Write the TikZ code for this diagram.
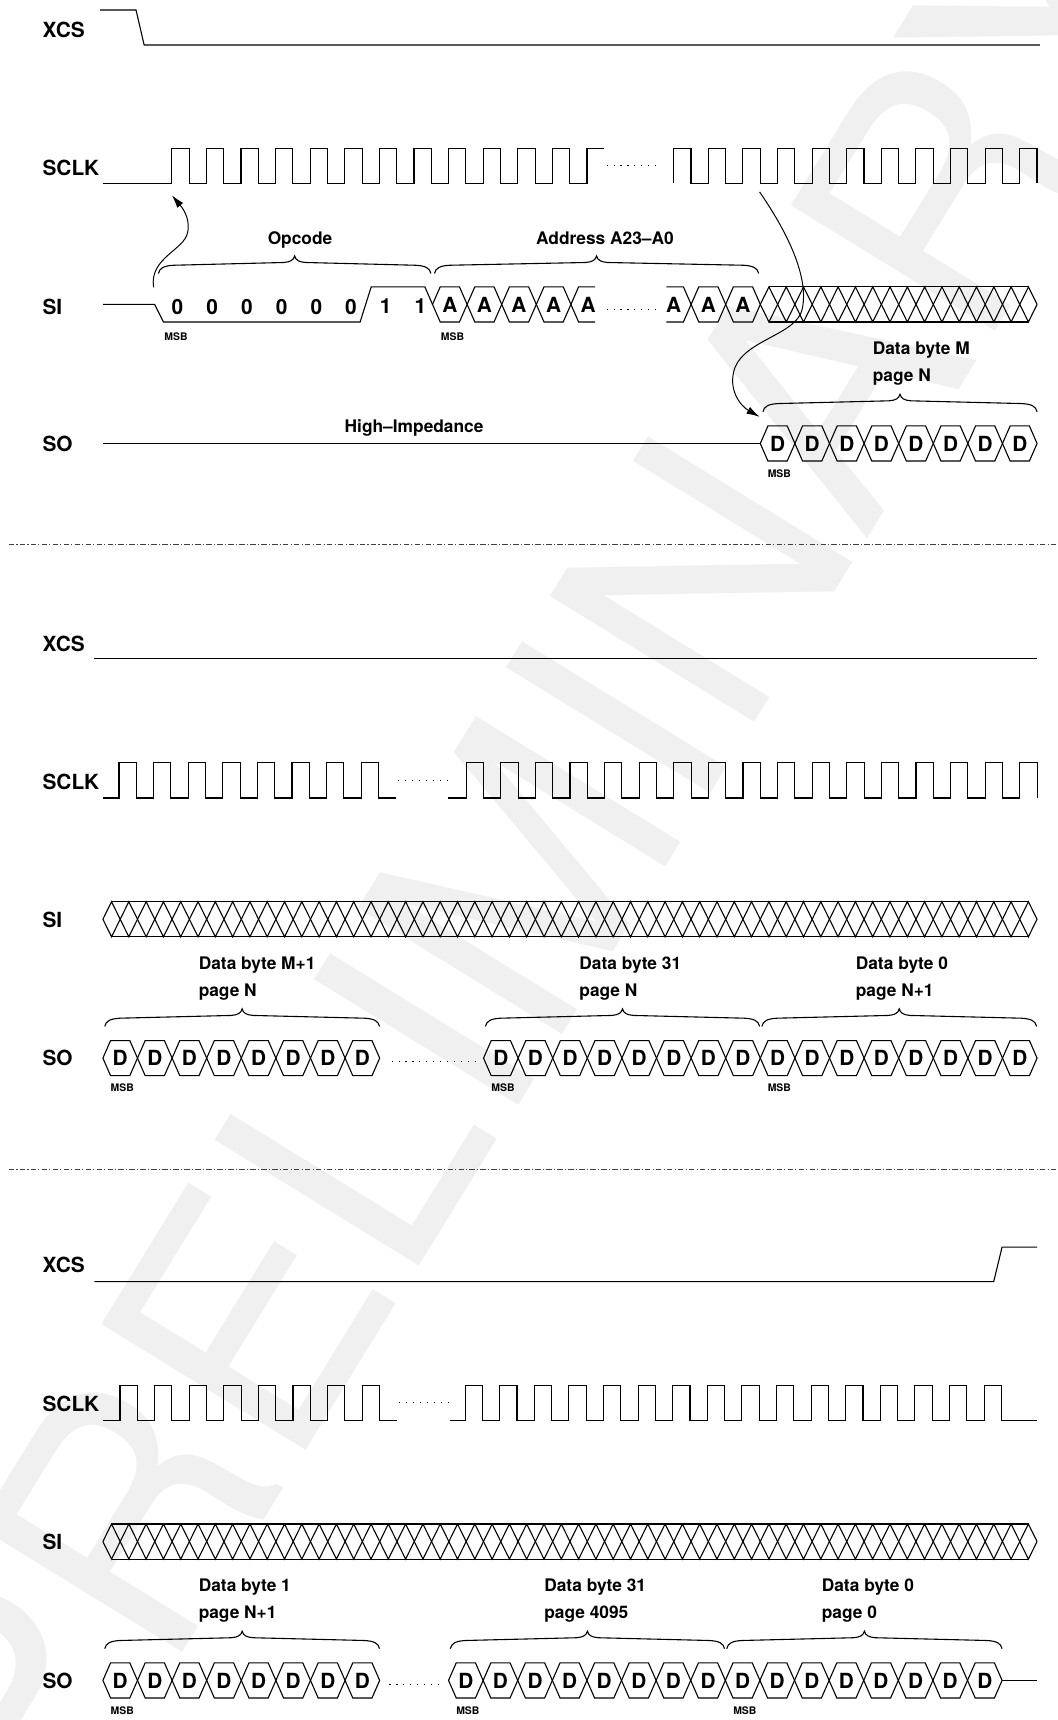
\documentclass[tikz,border=0pt]{standalone}
\usepackage{fontspec}
\setmainfont{TeX Gyre Heros}
\usetikzlibrary{arrows.meta}
\tikzset{
  sig/.style={line width=1pt, draw=black, line join=miter},
  siglab/.style={font=\fontsize{19}{22}\selectfont\bfseries, anchor=west, inner sep=0pt},
  bit/.style={font=\fontsize{19}{22}\selectfont\bfseries, inner sep=0pt},
  desc/.style={font=\fontsize{15.8}{18}\selectfont\bfseries, anchor=base west, inner sep=0pt},
  cdesc/.style={font=\fontsize{15.8}{18}\selectfont\bfseries, anchor=base, inner sep=0pt},
  msb/.style={font=\fontsize{9.5}{11}\selectfont\bfseries, inner sep=0pt},
  dotline/.style={line width=1.1pt, dash pattern=on 1.1pt off 5.2pt},
  arr/.style={line width=0.9pt, -{Latex[length=12pt,width=7pt]}},
  sepline/.style={line width=0.8pt, draw=black!75, dash pattern=on 5pt off 2pt on 1pt off 2pt},
  wmark/.style={text=black!6, font=\fontsize{300}{300}\selectfont, inner sep=0pt, rotate=58.4},
}
\newcommand\hexrow[5]{%
  \foreach \k in {1,...,#3}{%
    \pgfmathsetmacro\xa{#2+(\k-1)*31.54}%
    \pgfmathsetmacro\xb{\xa+31.54}%
    \pgfmathsetmacro\xc{\xa+15.77}%
    \draw[sig] (\xa,#4) -- ({\xa+7},{#4-16}) -- ({\xb-7},{#4-16}) -- (\xb,#4) -- ({\xb-7},{#4+16}) -- ({\xa+7},{#4+16}) -- cycle;
    \node[bit] (#1\k) at (\xc,#4) {#5};
  }}
\newcommand\hatchrow[3]{%
  \pgfmathsetmacro\hend{#1+#2*15.77}%
  \pgfmathtruncatemacro\hlast{#2-1}%
  \draw[sig] ({#1+7.885},{#3-16}) -- ({\hend-7.885},{#3-16});
  \draw[sig] ({#1+7.885},{#3+16}) -- ({\hend-7.885},{#3+16});
  \draw[sig] (#1,#3) foreach \j in {0,...,\hlast}{ -- ({#1+(2*\j+1)*7.885},{#3+16*(2*mod(\j,2)-1)}) } -- (\hend,#3);
  \draw[sig] (#1,#3) foreach \j in {0,...,\hlast}{ -- ({#1+(2*\j+1)*7.885},{#3-16*(2*mod(\j,2)-1)}) } -- (\hend,#3);
}
\newcommand\tbrace[3]{%
  \pgfmathsetmacro\xm{(#1+#2)/2}%
  \draw[sig] (#1,#3) .. controls ({#1+1},{#3-5}) and ({#1+5},{#3-7}) .. ({#1+14},{#3-7.5}) -- ({\xm-10},{#3-10}) .. controls ({\xm-4},{#3-10.5}) and ({\xm-1},{#3-12}) .. (\xm,{#3-16}) .. controls ({\xm+1},{#3-12}) and ({\xm+4},{#3-10.5}) .. ({\xm+10},{#3-10}) -- ({#2-14},{#3-7.5}) .. controls ({#2-5},{#3-7}) and ({#2-1},{#3-5}) .. (#2,#3);
}
\begin{document}
\begin{tikzpicture}[x=1pt,y=-1pt]
\useasboundingbox (0,0) rectangle (964,1568);
\begin{scope}
\clip (0,0) rectangle (964,1568);
\node[wmark] (wm) at (482,784) {PRELIMINARY};
\end{scope}

% ================= Section 1 =================
\node[siglab] (xcs1) at (38.6,27) {XCS};
\node[siglab] (sclk1) at (38.6,153.5) {SCLK};
\node[siglab] (si1) at (38.6,279.5) {SI};
\node[siglab] (so1) at (38.6,405) {SO};

\draw[sig] (91,9.1) -- (124,9.1) -- (131.4,41) -- (948,41);

\draw[sig] (94,167.2) -- (156.6,167.2) foreach \k in {1,...,12}{ -- ++(0,-32) -- ++(15.77,0) -- ++(0,32) -- ++(15.77,0)} -- ++(0,-32) -- ++(15.77,0);
\draw[dotline] (553,151.2) -- (599,151.2);
\draw[sig] (614.2,167.2) -- ++(0,-32) -- ++(15.77,0) -- ++(0,32) foreach \k in {1,...,10}{ -- ++(15.77,0) -- ++(0,-32) -- ++(15.77,0) -- ++(0,32)};

% SI
\draw[sig] (94,277.5) -- (141,277.5) -- (149,293.5) -- (328.3,293.5) -- (338.4,261.5) -- (387.3,261.5) -- (394.3,277.5);
\foreach \v [count=\i from 0] in {0,0,0,0,0,0,1,1}{
  \node[bit] (op\i) at ({161.7+31.66*\i},279.5) {\v};
}
\hexrow{ad}{394.3}{4}{277.5}{A}
\draw[sig] (542.6,261.5) -- (527.46,261.5) -- (520.46,277.5) -- (527.46,293.5) -- (542.6,293.5);
\node[bit] (ad5) at (536.2,277.5) {A};
\draw[dotline] (553,282.5) -- (599,282.5);
\draw[sig] (607.4,261.5) -- (623.02,261.5) -- (630.02,277.5) -- (623.02,293.5) -- (607.4,293.5);
\node[bit] (ad6) at (614.2,277.5) {A};
\hexrow{ae}{630.02}{2}{277.5}{A}
\hatchrow{693.1}{16}{277.5}
\node[msb] (msb1) at (160.5,307) {MSB};
\node[msb] (msb2) at (412.5,307) {MSB};

\tbrace{144.4}{392.8}{249.3}
\tbrace{396.1}{691.6}{249.3}
\node[cdesc] (opc) at (273.5,222.5) {Opcode};
\node[cdesc] (adr) at (551.5,222.5) {Address A23--A0};

% SO
\draw[sig] (94,404.3) -- (693.1,404.3);
\node[cdesc] (hiz) at (377.5,393.9) {High--Impedance};
\hexrow{sa}{693.1}{8}{404.3}{D}
\node[msb] (msb3) at (710.5,431.7) {MSB};
\tbrace{695.5}{945.4}{375.4}
\node[desc] (db1) at (795.5,323.5) {Data byte M};
\node[desc] (pg1) at (795.5,347.8) {page N};

% arrows
\coordinate (a1s) at (140,262);
\coordinate (a1e) at (156.6,178);
\draw[arr] (a1s) .. controls (136,235) and (168,228) .. (171,212) .. controls (174,198) and (165,188) .. (a1e);
\coordinate (a2s) at (692.5,175);
\coordinate (a2e) at (692.5,380);
\draw[arr] (a2s) .. controls (720,215) and (738,255) .. (731,283) .. controls (725,305) and (680,310) .. (670,335) .. controls (663,355) and (675,370) .. (a2e);

\draw[sepline] (8,496) -- (964,496);

% ================= Section 2 =================
\node[siglab] (xcs2) at (38.6,587) {XCS};
\node[siglab] (sclk2) at (38.6,712.5) {SCLK};
\node[siglab] (si2) at (38.6,838.5) {SI};
\node[siglab] (so2) at (38.6,964.8) {SO};

\draw[sig] (86,600.4) -- (945.4,600.4);
\draw[sig] (94,727.5) -- (108.5,727.5) foreach \k in {1,...,8}{ -- ++(0,-32) -- ++(15.77,0) -- ++(0,32) -- ++(15.77,0)};
\draw[dotline] (363,711.5) -- (409,711.5);
\draw[sig] (408,727.5) -- (425,727.5) -- ++(0,-32) -- ++(15.77,0) -- ++(0,32) foreach \k in {1,...,16}{ -- ++(15.77,0) -- ++(0,-32) -- ++(15.77,0) -- ++(0,32)};

\hatchrow{93.8}{54}{838}

\hexrow{sb}{93.8}{8}{964.6}{D}
\draw[dotline] (357,968) -- (433,968);
\hexrow{sc}{440.8}{16}{964.6}{D}
\node[msb] (msb4) at (111.5,992) {MSB};
\node[msb] (msb5) at (458.5,992) {MSB};
\node[msb] (msb6) at (710.5,992) {MSB};
\tbrace{95.5}{346}{935.7}
\tbrace{442.5}{692.5}{935.7}
\tbrace{694.5}{945}{935.7}
\node[desc] (db2) at (181,883.8) {Data byte M+1};
\node[desc] (pg2) at (181,908.1) {page N};
\node[desc] (db3) at (528,883.8) {Data byte 31};
\node[desc] (pg3) at (528,908.1) {page N};
\node[desc] (db4) at (780,883.8) {Data byte 0};
\node[desc] (pg4) at (780,908.1) {page N+1};

\draw[sepline] (8,1066) -- (964,1066);

% ================= Section 3 =================
\node[siglab] (xcs3) at (38.6,1153) {XCS};
\node[siglab] (sclk3) at (38.6,1279.5) {SCLK};
\node[siglab] (si3) at (38.6,1406) {SI};
\node[siglab] (so3) at (38.6,1532) {SO};

\draw[sig] (86,1168.3) -- (905.9,1168.3) -- (913.5,1136.9) -- (945.4,1136.9);
\draw[sig] (94,1294.8) -- (109.4,1294.8) foreach \k in {1,...,8}{ -- ++(0,-32) -- ++(15.77,0) -- ++(0,32) -- ++(15.77,0)};
\draw[dotline] (364,1278.8) -- (410,1278.8);
\draw[sig] (410.4,1294.8) -- (424,1294.8) foreach \k in {1,...,16}{ -- ++(0,-32) -- ++(15.77,0) -- ++(0,32) -- ++(15.77,0)} -- (945.4,1294.8);

\hatchrow{93.8}{54}{1405.3}

\hexrow{sd}{93.8}{8}{1531.9}{D}
\draw[dotline] (355,1535.5) -- (402,1535.5);
\hexrow{se}{408.9}{16}{1531.9}{D}
\draw[sig] (913.5,1531.9) -- (945.4,1531.9);
\node[msb] (msb7) at (111.5,1559.3) {MSB};
\node[msb] (msb8) at (426.5,1559.3) {MSB};
\node[msb] (msb9) at (679,1559.3) {MSB};
\tbrace{95.5}{346}{1503}
\tbrace{410.5}{660.5}{1503}
\tbrace{662.5}{913.5}{1503}
\node[desc] (db5) at (181,1451.1) {Data byte 1};
\node[desc] (pg5) at (181,1475.4) {page N+1};
\node[desc] (db6) at (496,1451.1) {Data byte 31};
\node[desc] (pg6) at (496,1475.4) {page 4095};
\node[desc] (db7) at (749,1451.1) {Data byte 0};
\node[desc] (pg7) at (749,1475.4) {page 0};
\end{tikzpicture}
\end{document}
